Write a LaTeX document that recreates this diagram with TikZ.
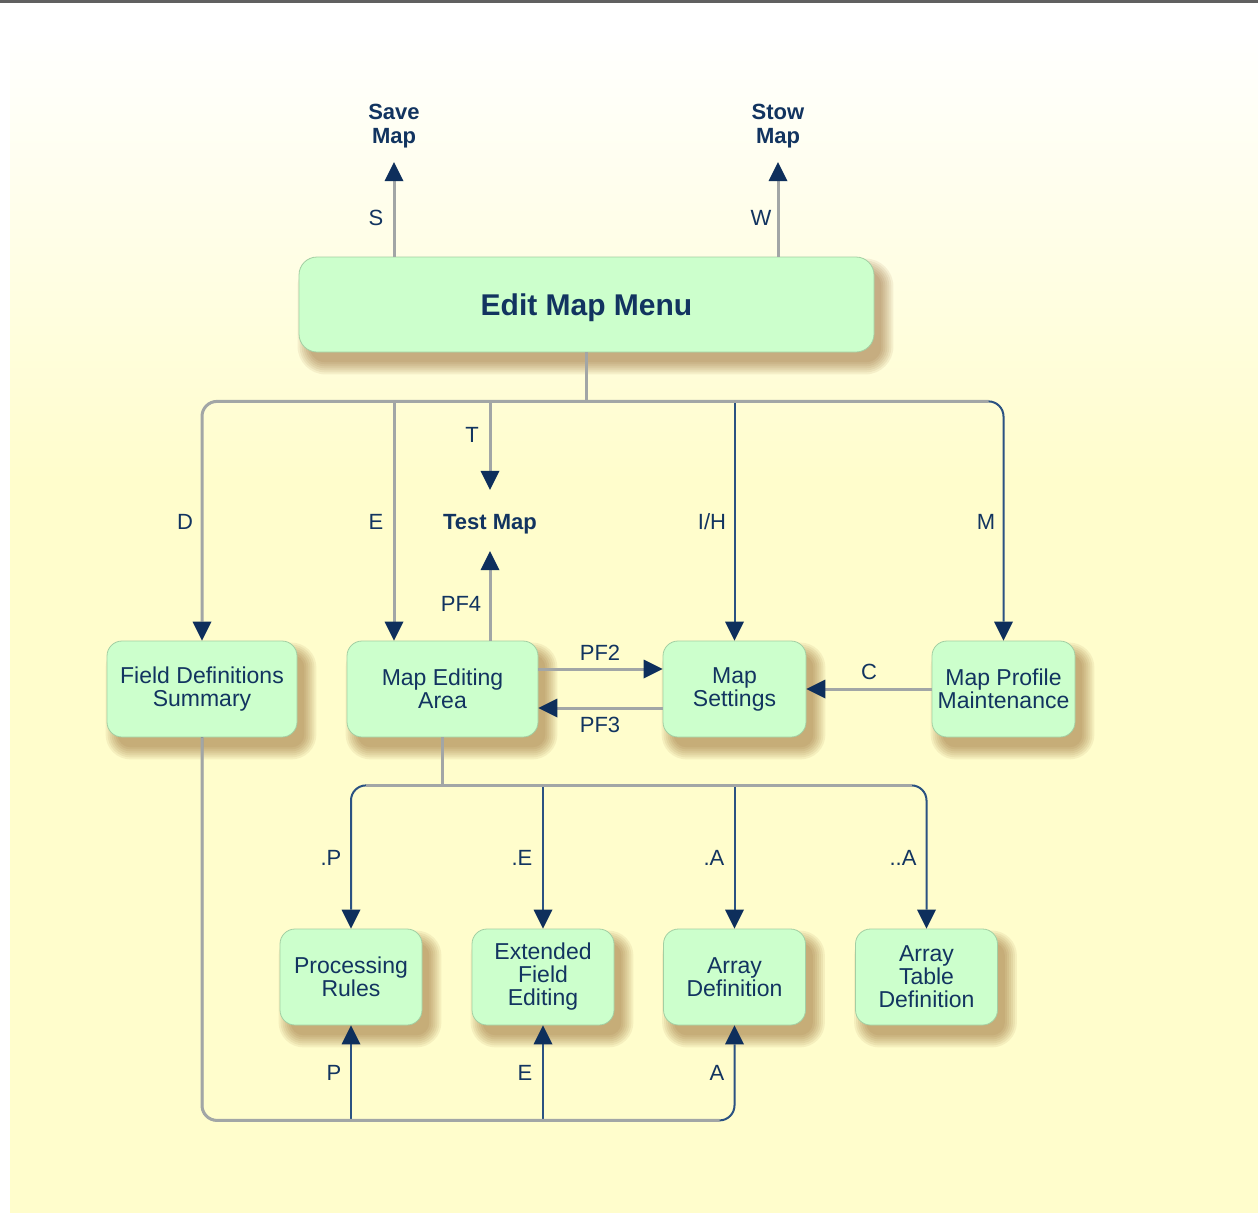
\documentclass[tikz,border=0pt]{standalone}
\usepackage{fontspec}
\setmainfont{Liberation Sans}
\usetikzlibrary{arrows.meta,calc}
\definecolor{bgyellow}{HTML}{FFFDCC}
\definecolor{boxfill}{HTML}{CCFFCC}
\definecolor{boxedge}{HTML}{A3CFA3}
\definecolor{navy}{HTML}{123460}
\definecolor{arrowc}{HTML}{0E2F5C}
\definecolor{linegray}{HTML}{A2A6A6}
\definecolor{lineblue}{HTML}{2B5282}
\definecolor{shadowc}{RGB}{130,75,20}
\definecolor{rulegray}{HTML}{606060}
\pgfdeclarelayer{bg}
\pgfsetlayers{bg,main}
\newcommand{\myshadow}[2][15]{%
  \foreach \r in {0,2,...,12}{%
    \pgfmathsetmacro\ee{\r-2}%
    \pgfmathsetmacro\rc{max(#1+\ee,1)}%
    \fill[shadowc, fill opacity=0.08, rounded corners=\rc pt]
      ([shift={({9-(\ee)},{12-(\ee)})}]#2.north west) rectangle
      ([shift={({9+(\ee)},{12+(\ee)})}]#2.south east);
  }}
\begin{document}
\begin{tikzpicture}[x=1pt,y=-1pt,
  box/.style={draw=boxedge, line width=0.8pt, fill=boxfill, rounded corners=15pt,
    align=center, text=navy, font=\fontsize{23}{23}\selectfont, inner sep=0pt,
    minimum height=96pt},
  lbl/.style={text=navy, font=\fontsize{22}{24}\selectfont, inner sep=0pt,
    text height=16pt, text depth=0pt},
  ttl/.style={text=navy, font=\bfseries\fontsize{22}{24}\selectfont, inner sep=0pt,
    align=center},
  arr/.style={-{Triangle[width=19pt,length=19pt,line width=0pt,color=arrowc]}},
  gline/.style={draw=linegray, line width=3pt},
  bline/.style={draw=lineblue, line width=2pt},
]
\useasboundingbox (0,0) rectangle (1258,1215);

% nodes
\node[box, minimum width=575pt, minimum height=95pt, rounded corners=18pt,
  font=\bfseries\fontsize{30}{32}\selectfont, text height=21.5pt, text depth=0pt]
  (menu) at (586.5,304.5) {Edit Map Menu};
\node[ttl] (save) at (394,126) {Save\\Map};
\node[ttl] (stow) at (778,126) {Stow\\Map};
\node[ttl, text height=16pt, text depth=0pt] (test) at (490,521) {Test Map};
\node[box, minimum width=190pt] (fds) at (202,689) {Field Definitions\\Summary};
\node[box, minimum width=191pt] (mea) at (442.5,689) {Map Editing\\Area};
\node[box, minimum width=143pt] (ms) at (734.5,689) {Map\\Settings};
\node[box, minimum width=143pt] (mpm) at (1003.5,689) {Map Profile\\Maintenance};
\node[box, minimum width=142pt] (pr) at (351,977) {Processing\\Rules};
\node[box, minimum width=142pt] (efe) at (543,977) {Extended\\Field\\Editing};
\node[box, minimum width=142pt] (ad) at (734.5,977) {Array\\Definition};
\node[box, minimum width=142pt] (atd) at (926.5,977) {Array\\Table\\Definition};

% background, rule and shadows
\begin{pgfonlayer}{bg}
  \shade[top color=white, bottom color=bgyellow] (10,30) rectangle (1258,480);
  \fill[bgyellow] (10,479) rectangle (1258,1213);
  \draw[rulegray, line width=2.5pt] (0,1.5) -- (1258,1.5);
  \myshadow[18]{menu}
  \myshadow{fds}\myshadow{mea}\myshadow{ms}\myshadow{mpm}
  \myshadow{pr}\myshadow{efe}\myshadow{ad}\myshadow{atd}
\end{pgfonlayer}

% helper coordinates
\coordinate (bus1) at ($(menu.south)+(0,49)$);
\coordinate (bus2) at ($(mea.south)+(0,48)$);
\coordinate (bus3) at ($(fds.south)+(0,383)$);
\coordinate (eTop) at ([shift={(-48.5,0)}]mea.north);

% S and W
\draw[gline, arr, shorten >=14pt] (save |- menu.north) -- (save.south);
\draw[gline, arr, shorten >=14pt] (stow |- menu.north) -- (stow.south);

% top bus
\draw[bline, arr, rounded corners=15pt] (ms.north |- bus1) -| (mpm.north);
\draw[bline, arr] (ms.north |- bus1) -- (ms.north);
\draw[gline] (menu.south) -- (bus1);
\draw[gline, arr, rounded corners=15pt] ($(mpm.north |- bus1)+(-15,0)$) -| (fds.north);
\draw[gline, arr] (eTop |- bus1) -- (eTop);
\draw[gline, arr, shorten >=23pt] (test |- bus1) -- (test.north);
\draw[gline, arr, shorten >=22pt] (test |- mea.north) -- (test.south);

% PF2, PF3, C
\draw[gline, arr] ([shift={(0,-20)}]mea.east) -- ([shift={(0,-20)}]ms.west);
\draw[gline, arr] ([shift={(0,19)}]ms.west) -- ([shift={(0,19)}]mea.east);
\draw[gline, arr] (mpm.west) -- (ms.east);

% second bus
\draw[bline, arr, rounded corners=15pt] (mea.south |- bus2) -| (pr.north);
\draw[bline, arr, rounded corners=15pt] (mea.south |- bus2) -| (atd.north);
\draw[bline, arr] (efe.north |- bus2) -- (efe.north);
\draw[bline, arr] (ad.north |- bus2) -- (ad.north);
\draw[gline] (mea.south) -- (bus2);
\draw[gline] ($(pr.north |- bus2)+(15,0)$) -- ($(atd.north |- bus2)+(-15,0)$);

% bottom loop
\draw[bline, arr, rounded corners=15pt] (fds.south) |- (ad.south |- bus3) -- (ad.south);
\draw[bline, arr] (pr.south |- bus3) -- (pr.south);
\draw[bline, arr] (efe.south |- bus3) -- (efe.south);
\draw[gline, rounded corners=15pt] (fds.south) |- ($(ad.south |- bus3)+(-15,0)$);

% labels
\node[lbl] (lS) at (376,217) {S};
\node[lbl] (lW) at (761,217) {W};
\node[lbl] (lT) at (472,434) {T};
\node[lbl] (lD) at (185,521) {D};
\node[lbl] (lE) at (376,521) {E};
\node[lbl] (lIH) at (712,521) {I/H};
\node[lbl] (lM) at (986,521) {M};
\node[lbl] (lPF4) at (461,603) {PF4};
\node[lbl] (lPF2) at (600,652) {PF2};
\node[lbl] (lPF3) at (600,724) {PF3};
\node[lbl] (lC) at (869,671) {C};
\node[lbl] (ldP) at (331,857) {.P};
\node[lbl] (ldE) at (522,857) {.E};
\node[lbl] (ldA) at (714,857) {.A};
\node[lbl] (lddA) at (903,857) {..A};
\node[lbl] (lP) at (334,1072) {P};
\node[lbl] (lEb) at (525,1072) {E};
\node[lbl] (lA) at (717,1072) {A};
\end{tikzpicture}
\end{document}
